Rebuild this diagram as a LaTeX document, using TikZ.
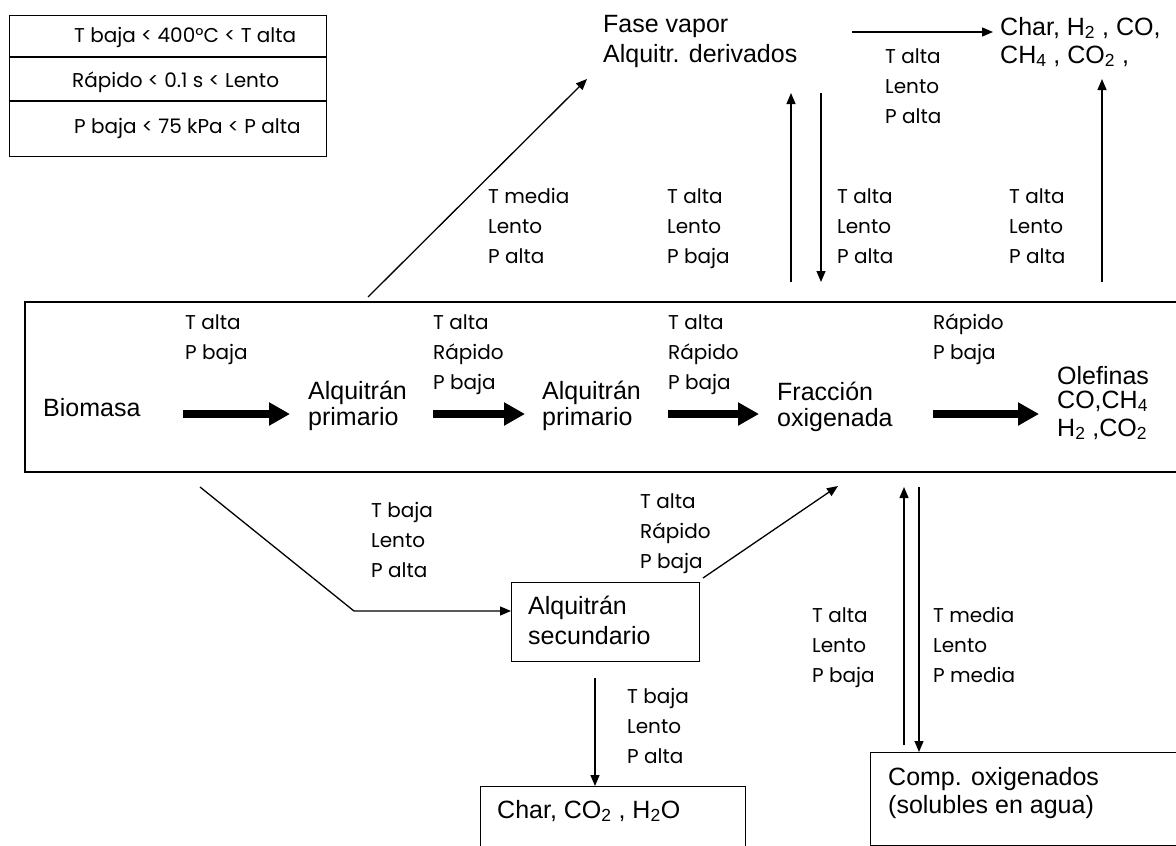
\documentclass[tikz,border=0pt]{standalone}
\usepackage{fontspec}
\setmainfont{Liberation Sans}
\newfontfamily\condfont{Poppins}
\usetikzlibrary{arrows.meta}

\begin{document}
\begin{tikzpicture}[x=1pt,y=-1pt,
  txt/.style={font=\fontsize{25}{28}\selectfont, inner sep=0pt, anchor=base west, align=left},
  cond/.style={font=\condfont\fontsize{20}{30}\selectfont, inner sep=0pt, anchor=base west, align=left},
  conn/.style={line width=1.3pt, -{Triangle[width=9pt,length=11pt]}},
  bigarrow/.style={line width=8pt, -{Triangle[width=22pt,length=21pt]}},
  frame/.style={draw, line width=1.6pt, inner sep=0pt, anchor=north west}
]
\useasboundingbox (0,0) rectangle (1176,846);
\clip (0,0) rectangle (1176,846);

% legend of the conditions
\node[frame, line width=1.4pt, minimum width=317pt, minimum height=141pt] (legend) at (9,15) {};
\draw[line width=2.4pt] (9,57) -- (326,57);
\draw[line width=1.4pt] (9,101) -- (326,101);
\node[cond] (lg1) at (74,42) {T baja < 400°C < T alta};
\node[cond] (lg2) at (72,87) {Rápido < 0.1 s < Lento};
\node[cond] (lg3) at (74,133) {P baja < 75 kPa < P alta};

% main reaction line (multi-line texts are placed by their last baseline)
\node[frame, line width=1.8pt, minimum width=1170pt, minimum height=170pt] (main) at (24,301) {};
\node[txt] (bio) at (43,416) {Biomasa};
\node[txt, font=\fontsize{25}{26}\selectfont] (ap1) at (308,425) {Alquitrán\\primario};
\node[txt, font=\fontsize{25}{26}\selectfont] (ap2) at (542,425) {Alquitrán\\primario};
\node[txt, font=\fontsize{25}{26}\selectfont] (frac) at (777,426) {Fracción\\oxigenada};
\node[txt] (olef) at (1057,436) {Olefinas\\[-4pt]CO,CH\textsubscript{4}\\H\textsubscript{2} ,CO\textsubscript{2}};

\coordinate (a1s) at (183,414); \coordinate (a1e) at (290,414);
\coordinate (a2s) at (433,414); \coordinate (a2e) at (525,414);
\coordinate (a3s) at (668,414); \coordinate (a3e) at (759,414);
\coordinate (a4s) at (933,414); \coordinate (a4e) at (1039,414);
\draw[bigarrow] (a1s) -- (a1e);
\draw[bigarrow] (a2s) -- (a2e);
\draw[bigarrow] (a3s) -- (a3e);
\draw[bigarrow] (a4s) -- (a4e);

\node[cond] (c1) at (185,359) {T alta\\P baja};
\node[cond] (c2) at (433,389) {T alta\\Rápido\\P baja};
\node[cond] (c3) at (668,389) {T alta\\Rápido\\P baja};
\node[cond] (c4) at (933,359) {Rápido\\P baja};

% vapour phase branch
\node[txt, font=\fontsize{25}{30}\selectfont] (vap) at (603,62) {Fase vapor\\Alquitr. derivados};
\node[txt] (gas) at (1000,63) {Char, H\textsubscript{2} , CO,\\CH\textsubscript{4} , CO\textsubscript{2} ,};

\coordinate (d1s) at (368,297); \coordinate (d1e) at (587,79);
\draw[conn] (d1s) -- (d1e);
\coordinate (h1s) at (852,32); \coordinate (h1e) at (993,32);
\draw[conn] (h1s) -- (h1e);
\coordinate (u1s) at (791,282); \coordinate (u1e) at (791,93);
\draw[conn] (u1s) -- (u1e);
\coordinate (v1s) at (821,93); \coordinate (v1e) at (821,282);
\draw[conn] (v1s) -- (v1e);
\coordinate (u2s) at (1102,282); \coordinate (u2e) at (1102,79);
\draw[conn] (u2s) -- (u2e);

\node[cond] (c5) at (885,123) {T alta\\Lento\\P alta};
\node[cond] (c6) at (488,263) {T media\\Lento\\P alta};
\node[cond] (c7) at (667,263) {T alta\\Lento\\P baja};
\node[cond] (c8) at (837,263) {T alta\\Lento\\P alta};
\node[cond] (c9) at (1009,263) {T alta\\Lento\\P alta};

% secondary tar branch
\node[frame, line width=1.4pt, minimum width=188pt, minimum height=79pt] (sec) at (511,582) {};
\node[txt, font=\fontsize{25}{30}\selectfont] (sect) at (528,644) {Alquitrán\\secundario};
\node[frame, line width=1.4pt, minimum width=265pt, minimum height=80pt] (char) at (480,786) {};
\node[txt] (chart) at (497,818) {Char, CO\textsubscript{2} , H\textsubscript{2}O};

\coordinate (p1) at (200,487); \coordinate (p2) at (354,611);
\draw[conn] (p1) -- (p2) -- (sec.west |- p2);
\coordinate (q1) at (703,578); \coordinate (q2) at (838,486);
\draw[conn] (q1) -- (q2);
\coordinate (r1) at (595,678);
\draw[conn] (r1) -- (r1 |- char.north);

\node[cond] (c10) at (371,577) {T baja\\Lento\\P alta};
\node[cond] (c11) at (640,568) {T alta\\Rápido\\P baja};
\node[cond] (c12) at (627,763) {T baja\\Lento\\P alta};

% water-soluble oxygenates
\node[frame, line width=1.4pt, minimum width=320pt, minimum height=93pt] (comp) at (870,752) {};
\node[txt] (compt) at (888,813) {Comp. oxigenados\\(solubles en agua)};
\coordinate (s1) at (904,745); \coordinate (s2) at (904,487);
\draw[conn] (s1) -- (s2);
\coordinate (t1) at (919,487);
\draw[conn] (t1) -- (t1 |- comp.north);

\node[cond] (c13) at (812,682) {T alta\\Lento\\P baja};
\node[cond] (c14) at (933,682) {T media\\Lento\\P media};
\end{tikzpicture}
\end{document}
